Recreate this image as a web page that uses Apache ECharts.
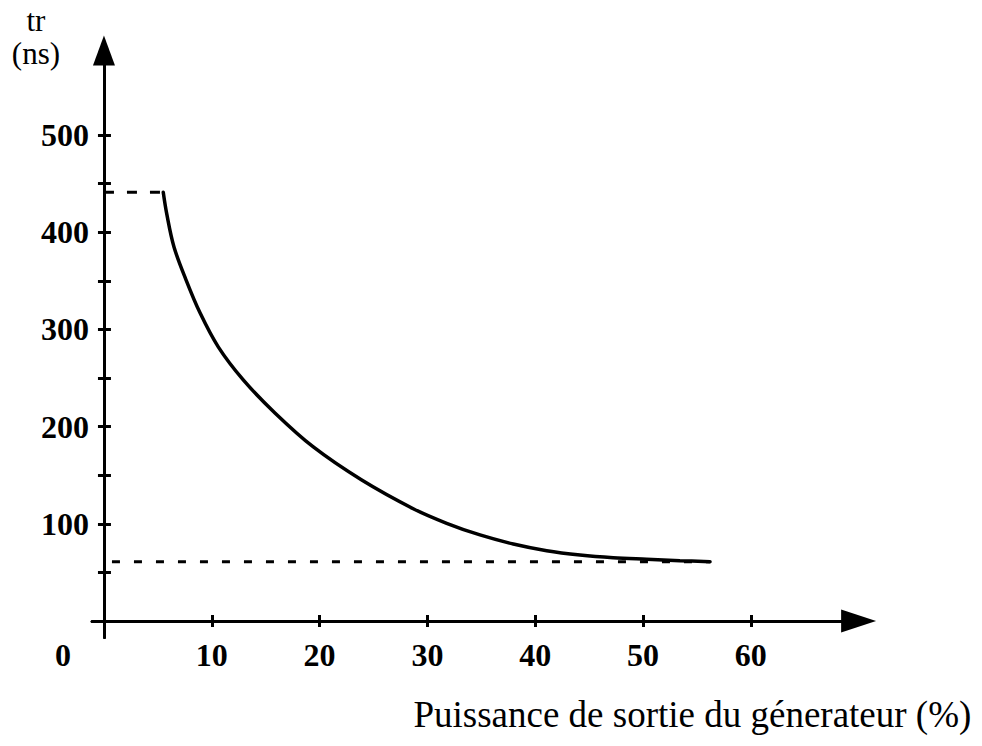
<!DOCTYPE html>
<html>
<head>
<meta charset="utf-8">
<script src="https://cdn.jsdelivr.net/npm/echarts@6/dist/echarts.min.js"></script>
<style>
html,body{margin:0;padding:0;background:#fff;}
#chart{width:982px;height:746px;}
</style>
</head>
<body>
<div id="chart"></div>
<script>
// ---- data ----
const xAxisTitle = 'Puissance de sortie du génerateur (%)';
const yAxisTitle = 'tr\n(ns)';
const xTickValues = [10, 20, 30, 40, 50, 60];
const xLabelValues = [0, 10, 20, 30, 40, 50, 60];
const yTickValues = [50, 100, 150, 200, 250, 300, 350, 400, 450, 500];
const yLabelValues = [100, 200, 300, 400, 500];

// tr curve (ns) versus output power (%)
const curveX = [5.5, 5.82, 6.49, 7.61, 8.91, 10.6, 12.92, 15.86, 19.42, 23.91, 28.69, 31.79, 34.88, 37.97, 41.07, 44.16, 47.24, 50.34, 53.43, 56.22];
const curveY = [441, 419, 385, 351, 317, 282, 248, 214, 179, 145, 115.5, 100.5, 88.5, 79.2, 72.3, 67.9, 65.1, 63.5, 62.0, 61.0];

// dashed reference levels
const upperLevelX = [0, 5.5];
const upperLevelY = [441, 441];
const lowerLevelX = [0, 56.22];
const lowerLevelY = [61, 61];

const zip = (xs, ys) => xs.map((x, i) => [x, ys[i]]);

const FONT = '"Liberation Serif", "Times New Roman", serif';
const BLACK = '#000';

const chart = echarts.init(document.getElementById('chart'), null, {renderer: 'svg'});
chart.setOption({
  animation: false,
  backgroundColor: '#fff',
  grid: {
    left: 92.1, right: 123.4, top: 50.4, bottom: 108.5,
    containLabel: false, outerBoundsMode: 'none'
  },
  xAxis: [{
    type: 'value', min: -1.1, max: 70, position: 'bottom',
    axisLine: {show: true, onZero: true, onZeroAxisIndex: 0,
      symbol: ['none', 'triangle'], symbolSize: [23, 35],
      lineStyle: {color: BLACK, width: 3}},
    axisTick: {show: true, inside: false, length: 6, customValues: xTickValues,
      lineStyle: {color: BLACK, width: 3}},
    axisLabel: {show: true, customValues: xLabelValues, margin: 1,
      color: BLACK, fontFamily: FONT, fontSize: 32, fontWeight: 'bold', lineHeight: 32,
      formatter: v => v === 0 ? '{z|0}' : String(v),
      rich: {z: {padding: [0, 82, 0, 0], color: BLACK, fontFamily: FONT, fontSize: 32, fontWeight: 'bold', lineHeight: 32}}},
    splitLine: {show: false},
    name: xAxisTitle, nameLocation: 'middle', nameGap: 58, nameMoveOverlap: false,
    nameTextStyle: {color: BLACK, fontFamily: FONT, fontSize: 37, align: 'center', verticalAlign: 'top',
      lineHeight: 37, padding: [0, 0, 0, 434]}
  }, {
    type: 'value', min: -1.1, max: 70, position: 'bottom',
    axisLine: {show: true, onZero: true, onZeroAxisIndex: 0, lineStyle: {color: BLACK, width: 3}},
    axisTick: {show: true, inside: true, length: 6, customValues: xTickValues,
      lineStyle: {color: BLACK, width: 3}},
    axisLabel: {show: false},
    splitLine: {show: false}
  }],
  yAxis: [{
    type: 'value', min: -17, max: 587, position: 'left',
    axisLine: {show: true, onZero: true, onZeroAxisIndex: 0,
      symbol: ['none', 'triangle'], symbolSize: [22, 30],
      lineStyle: {color: BLACK, width: 3}},
    axisTick: {show: true, inside: false, length: 6, customValues: yTickValues,
      lineStyle: {color: BLACK, width: 3}},
    axisLabel: {show: true, customValues: yLabelValues, margin: 3,
      color: BLACK, fontFamily: FONT, fontSize: 32, fontWeight: 'bold'},
    splitLine: {show: false},
    name: yAxisTitle, nameLocation: 'end', nameGap: -20, nameMoveOverlap: false,
    nameTextStyle: {color: BLACK, fontFamily: FONT, fontSize: 31, lineHeight: 33,
      align: 'center', verticalAlign: 'bottom', padding: [0, 136, 0, 0]}
  }, {
    type: 'value', min: -17, max: 587, position: 'left',
    axisLine: {show: true, onZero: true, onZeroAxisIndex: 0, lineStyle: {color: BLACK, width: 3}},
    axisTick: {show: true, inside: true, length: 7, customValues: yTickValues,
      lineStyle: {color: BLACK, width: 3}},
    axisLabel: {show: false},
    splitLine: {show: false}
  }],
  series: [{
    name: 'tr', type: 'line', xAxisIndex: 0, yAxisIndex: 0,
    data: zip(curveX, curveY), smooth: 0.35, showSymbol: false, symbol: 'none',
    lineStyle: {color: BLACK, width: 3.5, cap: 'round'}, z: 5
  }, {
    name: 'upper', type: 'line', xAxisIndex: 0, yAxisIndex: 0,
    data: zip(upperLevelX, upperLevelY), showSymbol: false, symbol: 'none',
    lineStyle: {color: BLACK, width: 3, type: [10, 13], dashOffset: 0}
  }, {
    name: 'lower', type: 'line', xAxisIndex: 0, yAxisIndex: 0,
    data: zip(lowerLevelX, lowerLevelY), showSymbol: false, symbol: 'none',
    lineStyle: {color: BLACK, width: 3, type: [8, 14], dashOffset: 14}
  }]
});
</script>
</body>
</html>
